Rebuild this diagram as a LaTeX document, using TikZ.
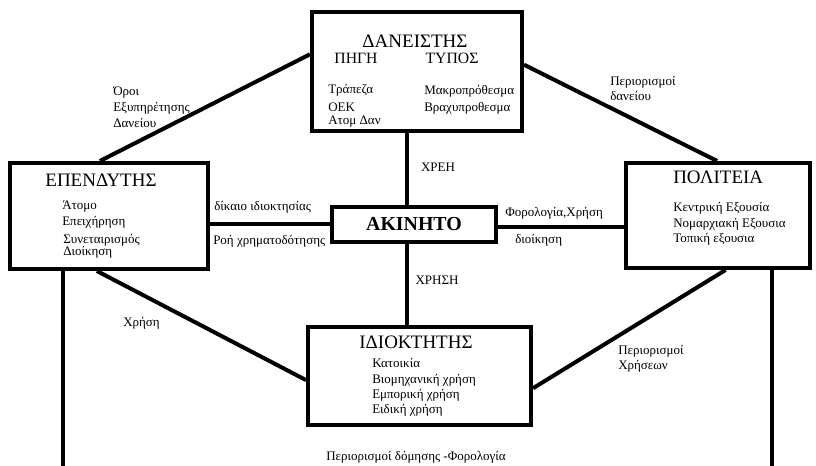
\documentclass[tikz,border=0pt]{standalone}
\usepackage{fontspec}
\setmainfont{Liberation Serif}
\usetikzlibrary{calc,fit}
\begin{document}
\begin{tikzpicture}[x=0.75pt,y=-0.75pt,
 box/.style={draw, line width=3pt, inner sep=0pt, fill=white},
 conn/.style={line width=3pt},
 ttl/.style={inner sep=0pt, font=\fontsize{14.25pt}{16pt}\selectfont},
 sub/.style={inner sep=0pt, font=\fontsize{11.8pt}{13pt}\selectfont},
 txt/.style={inner sep=0pt, font=\fontsize{9.75pt}{11pt}\selectfont},
 lt/.style={txt, anchor=west}]
\useasboundingbox (0,0) rectangle (816,466);

% boxes
\node[box, fit={(312,12) (522,131)}] (dan) {};
\node[box, fit={(10,163) (208,269)}] (ep) {};
\node[box, fit={(332,207) (496,242)}] (ak) {};
\node[box, fit={(626,163) (810,268)}] (pol) {};
\node[box, fit={(308,327) (531,425)}] (idi) {};

% bottom free ends
\coordinate (bl) at (63,466);
\coordinate (br) at (772,466);

% connectors
\draw[conn] ($(ep.north west)!0.455!(ep.north east)$) -- ($(dan.north west)!0.36!(dan.south west)$);
\draw[conn] ($(dan.north east)!0.445!(dan.south east)$) -- ($(pol.north west)!0.495!(pol.north east)$);
\draw[conn] ($(ak.north west)!0.457!(ak.north east)$) coordinate (t1) -- (t1 |- dan.south);
\draw[conn] ($(ak.south west)!0.457!(ak.south east)$) coordinate (t2) -- (t2 |- idi.north);
\draw[conn] ($(ep.north east)!0.575!(ep.south east)$) coordinate (t3) -- (t3 -| ak.west);
\draw[conn] ($(ak.north east)!0.57!(ak.south east)$) coordinate (t4) -- (t4 -| pol.west);
\draw[conn] ($(ep.south west)!0.44!(ep.south east)$) -- ($(idi.north west)!0.54!(idi.south west)$);
\draw[conn] ($(idi.north east)!0.62!(idi.south east)$) -- ($(pol.south west)!0.54!(pol.south east)$);
\draw[conn] (ep.south -| bl) -- (bl);
\draw[conn] (pol.south -| br) -- (br);

% top box text
\node[ttl] (danT) at (415,41) {ΔΑΝΕΙΣΤΗΣ};
\node[sub] (pigi) at (356,58) {ΠΗΓΗ};
\node[sub] (typos) at (452,58) {ΤΥΠΟΣ};
\node[lt] (d1) at (328,90) {Τράπεζα};
\node[lt] (d2) at (328,107) {ΟΕΚ};
\node[lt] (d3) at (328,122) {Ατομ Δαν};
\node[lt] (d4) at (424,91) {Μακροπρόθεσμα};
\node[lt] (d5) at (424,108) {Βραχυπροθεσμα};

% left box text
\node[ttl] (epT) at (101,180) {ΕΠΕΝΔΥΤΗΣ};
\node[lt] (e1) at (62,207) {Άτομο};
\node[lt] (e2) at (62,222) {Επειχήρηση};
\node[lt] (e3) at (63,240) {Συνεταιρισμός};
\node[lt] (e4) at (63,252) {Διοίκηση};

% centre
\node[inner sep=0pt, font=\bfseries\fontsize{14.9pt}{16pt}\selectfont] (akT) at (414,224) {ΑΚΙΝΗΤΟ};
\node[txt] (xreh) at (438,167) {ΧΡΕΗ};
\node[txt] (xrhsh) at (437,280) {ΧΡΗΣΗ};
\node[lt] (l1) at (214,207) {δίκαιο ιδιοκτησίας};
\node[lt] (l2) at (213,241) {Ροή χρηματοδότησης};
\node[lt] (r1) at (505,213) {Φορολογία,Χρήση};
\node[lt] (r2) at (515,240) {διοίκηση};

% right box text
\node[ttl, anchor=west] (polT) at (673,177) {ΠΟΛΙΤΕΙΑ};
\node[lt] (p1) at (673,208) {Κεντρική Εξουσία};
\node[lt] (p2) at (673,224) {Νομαρχιακή Εξουσια};
\node[lt] (p3) at (673,239) {Τοπική εξουσια};

% bottom box text
\node[ttl] (idiT) at (416,342) {ΙΔΙΟΚΤΗΤΗΣ};
\node[lt] (i1) at (372,363) {Κατοικία};
\node[lt] (i2) at (372,380) {Βιομηχανική χρήση};
\node[lt] (i3) at (372,395) {Εμπορική χρήση};
\node[lt] (i4) at (372,410) {Ειδική χρήση};

% edge labels
\node[lt] (o1) at (113,93) {Όροι};
\node[lt] (o2) at (113,108) {Εξυπηρέτησης};
\node[lt] (o3) at (113,123) {Δανείου};
\node[lt] (pd1) at (610,82) {Περιορισμοί};
\node[lt] (pd2) at (610,96) {δανείου};
\node[lt] (xr) at (123,323) {Χρήση};
\node[lt] (px1) at (618,351) {Περιορισμοί};
\node[lt] (px2) at (618,366) {Χρήσεων};
\node[txt] (pdf) at (416,457) {Περιορισμοί δόμησης -Φορολογία};
\end{tikzpicture}
\end{document}
